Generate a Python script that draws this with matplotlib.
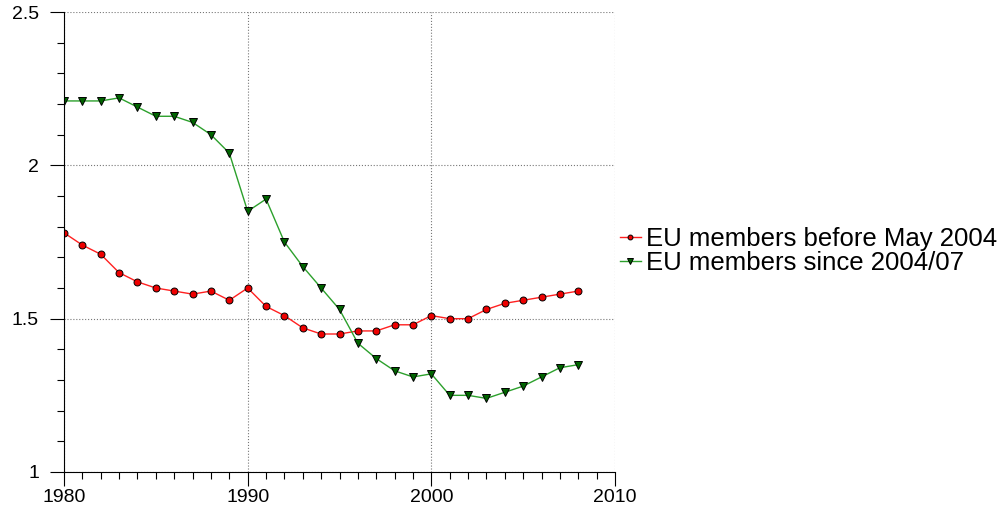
import numpy as np
import matplotlib
matplotlib.use("Agg")
import matplotlib.pyplot as plt
from matplotlib.ticker import MultipleLocator

plt.rcParams['font.family'] = ['Liberation Sans', 'DejaVu Sans']

# fertility rates
years = list(range(1980, 2009))
before_2004 = [1.78, 1.74, 1.71, 1.65, 1.62, 1.60, 1.59, 1.58, 1.59, 1.56,
               1.60, 1.54, 1.51, 1.47, 1.45, 1.45, 1.46, 1.46, 1.48, 1.48,
               1.51, 1.50, 1.50, 1.53, 1.55, 1.56, 1.57, 1.58, 1.59]
since_2004 = [2.21, 2.21, 2.21, 2.22, 2.19, 2.16, 2.16, 2.14, 2.10, 2.04,
              1.85, 1.89, 1.75, 1.67, 1.60, 1.53, 1.42, 1.37, 1.33, 1.31,
              1.32, 1.25, 1.25, 1.24, 1.26, 1.28, 1.31, 1.34, 1.35]
labels = ['EU members before May 2004', 'EU members since 2004/07']

fig = plt.figure(figsize=(10, 5.09), dpi=100)
ax = fig.add_axes([0.064, 0.0727, 0.551, 0.9037])

ax.plot(years, before_2004, '-', color='#ff2020', lw=1, marker='o',
        markersize=5, markerfacecolor='#ee0000', markeredgecolor='black',
        markeredgewidth=0.7, label=labels[0])
ax.plot(years, since_2004, '-', color='#2ca02c', lw=1, marker='v',
        markersize=6, markerfacecolor='#006400', markeredgecolor='black',
        markeredgewidth=0.7, label=labels[1])

ax.set_xlim(1980, 2010)
ax.set_ylim(1, 2.5)
ax.xaxis.set_major_locator(MultipleLocator(10))
ax.xaxis.set_minor_locator(MultipleLocator(1))
ax.yaxis.set_major_locator(MultipleLocator(0.5))
ax.yaxis.set_minor_locator(MultipleLocator(0.1))
ax.set_yticks([1, 1.5, 2, 2.5])
ax.set_yticklabels(['1', '1.5', '2', '2.5'])

ax.grid(True, which='major', color='#777777', linestyle=':', linewidth=0.8)
ax.spines['top'].set_visible(False)
ax.spines['right'].set_visible(False)
ax.tick_params(which='major', direction='out', length=10, labelsize=14, width=0.8)
ax.tick_params(which='minor', direction='out', length=5, width=0.8)
ax.tick_params(axis='y', pad=8)
ax.tick_params(axis='x', pad=2)

ax.legend(loc='center left', bbox_to_anchor=(1.0, 0.48), frameon=False,
          fontsize=18.5, handlelength=0.8, handletextpad=0.2,
          labelspacing=0.0, borderaxespad=0.2, borderpad=0.0,
          markerscale=0.7)

plt.savefig('out.png', dpi=100)
